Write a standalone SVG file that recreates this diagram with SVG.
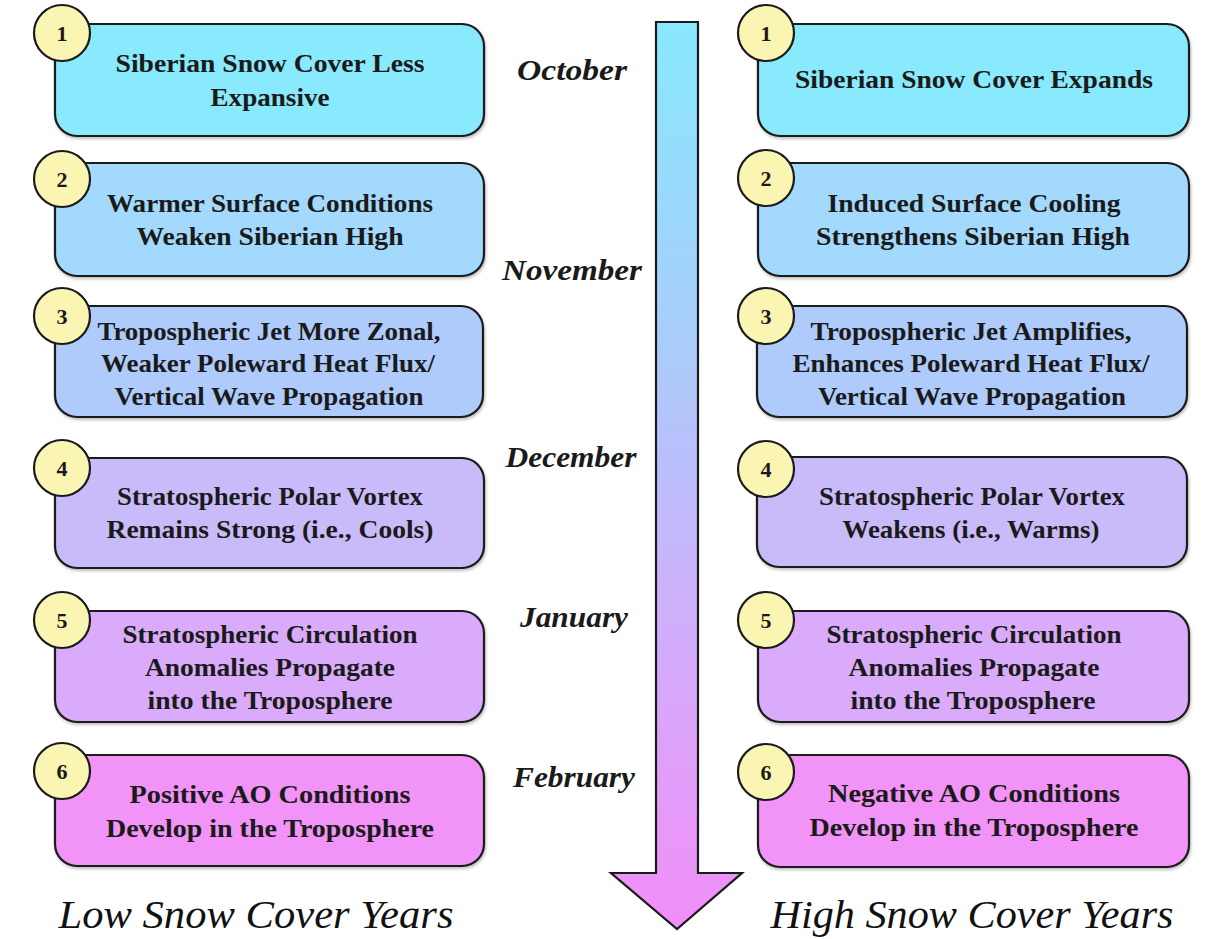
<svg xmlns="http://www.w3.org/2000/svg" width="1223" height="939" viewBox="0 0 1223 939">
<defs>
<linearGradient id="arrowGrad" x1="0" y1="22" x2="0" y2="929" gradientUnits="userSpaceOnUse">
<stop offset="0" stop-color="#88e8fd"/>
<stop offset="0.35" stop-color="#a9cdfc"/>
<stop offset="0.6" stop-color="#c9b4fb"/>
<stop offset="1" stop-color="#f28ef8"/>
</linearGradient>
<filter id="sh" x="-5%" y="-5%" width="110%" height="115%">
<feDropShadow dx="1" dy="2" stdDeviation="1.5" flood-color="#000" flood-opacity="0.25"/>
</filter>
</defs>
<style>
.box{stroke:#1a1a1a;stroke-width:2.2}
.b1{fill:#89e9fd}.b2{fill:#a3d9fc}.b3{fill:#aecbfb}.b4{fill:#c9bbfa}.b5{fill:#d9abfa}.b6{fill:#f293f8}
.num{fill:#fbf5b3;stroke:#1a1a1a;stroke-width:2.2}
.t{font-family:"Liberation Serif","Times New Roman",serif;font-weight:bold;font-size:26px;fill:#1a1a1a;text-anchor:middle}
.n{font-family:"Liberation Serif","Times New Roman",serif;font-weight:bold;font-size:22px;fill:#1a1a1a;text-anchor:middle}
.m{font-family:"Liberation Serif","Times New Roman",serif;font-weight:bold;font-style:italic;font-size:30px;fill:#1a1a1a;text-anchor:middle}
.h{font-family:"Liberation Serif","Times New Roman",serif;font-style:italic;font-size:39px;fill:#111;text-anchor:middle}
</style>
<rect width="1223" height="939" fill="#ffffff"/>

<g id="connectors">
<polygon id="time-arrow" points="656,22 698,22 698,873 742,873 677,929 611,873 656,873" fill="url(#arrowGrad)" stroke="#1a1a1a" stroke-width="2.2" stroke-linejoin="miter"/>
</g>

<g id="months">
<text class="m" x="572" y="80" textLength="110" lengthAdjust="spacingAndGlyphs">October</text>
<text class="m" x="572" y="280" textLength="140" lengthAdjust="spacingAndGlyphs">November</text>
<text class="m" x="571" y="467" textLength="131" lengthAdjust="spacingAndGlyphs">December</text>
<text class="m" x="574" y="627" textLength="108" lengthAdjust="spacingAndGlyphs">January</text>
<text class="m" x="574" y="787" textLength="122" lengthAdjust="spacingAndGlyphs">February</text>
</g>

<!-- Left column -->
<g id="L1">
<rect class="box b1" x="55" y="24" width="429" height="112" rx="22" filter="url(#sh)"/>
<circle class="num" cx="62" cy="33" r="28"/>
<text class="n" x="62" y="41">1</text>
<text class="t" x="270" y="72" textLength="309" lengthAdjust="spacingAndGlyphs">Siberian Snow Cover Less</text>
<text class="t" x="270" y="106" textLength="119" lengthAdjust="spacingAndGlyphs">Expansive</text>
</g>
<g id="L2">
<rect class="box b2" x="55" y="163" width="429" height="113" rx="22" filter="url(#sh)"/>
<circle class="num" cx="62" cy="179" r="28"/>
<text class="n" x="62" y="187">2</text>
<text class="t" x="270" y="212" textLength="326" lengthAdjust="spacingAndGlyphs">Warmer Surface Conditions</text>
<text class="t" x="270" y="245" textLength="267" lengthAdjust="spacingAndGlyphs">Weaken Siberian High</text>
</g>
<g id="L3">
<rect class="box b3" x="55" y="306" width="428" height="111" rx="22" filter="url(#sh)"/>
<circle class="num" cx="62" cy="316" r="28"/>
<text class="n" x="62" y="324">3</text>
<text class="t" x="269" y="340" textLength="343" lengthAdjust="spacingAndGlyphs">Tropospheric Jet More Zonal,</text>
<text class="t" x="268" y="372" textLength="334" lengthAdjust="spacingAndGlyphs">Weaker Poleward Heat Flux/</text>
<text class="t" x="269" y="405" textLength="309" lengthAdjust="spacingAndGlyphs">Vertical Wave Propagation</text>
</g>
<g id="L4">
<rect class="box b4" x="55" y="458" width="429" height="110" rx="22" filter="url(#sh)"/>
<circle class="num" cx="62" cy="468" r="28"/>
<text class="n" x="62" y="476">4</text>
<text class="t" x="270" y="505" textLength="306" lengthAdjust="spacingAndGlyphs">Stratospheric Polar Vortex</text>
<text class="t" x="270" y="538" textLength="327" lengthAdjust="spacingAndGlyphs">Remains Strong (i.e., Cools)</text>
</g>
<g id="L5">
<rect class="box b5" x="55" y="611" width="429" height="111" rx="22" filter="url(#sh)"/>
<circle class="num" cx="62" cy="620" r="28"/>
<text class="n" x="62" y="628">5</text>
<text class="t" x="270" y="643" textLength="295" lengthAdjust="spacingAndGlyphs">Stratospheric Circulation</text>
<text class="t" x="270" y="676" textLength="250" lengthAdjust="spacingAndGlyphs">Anomalies Propagate</text>
<text class="t" x="270" y="709" textLength="245" lengthAdjust="spacingAndGlyphs">into the Troposphere</text>
</g>
<g id="L6">
<rect class="box b6" x="55" y="755" width="429" height="111" rx="22" filter="url(#sh)"/>
<circle class="num" cx="62" cy="771" r="28"/>
<text class="n" x="62" y="779">6</text>
<text class="t" x="270" y="803" textLength="281" lengthAdjust="spacingAndGlyphs">Positive AO Conditions</text>
<text class="t" x="270" y="837" textLength="328" lengthAdjust="spacingAndGlyphs">Develop in the Troposphere</text>
</g>

<!-- Right column -->
<g id="R1">
<rect class="box b1" x="758" y="24" width="431" height="112" rx="22" filter="url(#sh)"/>
<circle class="num" cx="766" cy="33" r="28"/>
<text class="n" x="766" y="41">1</text>
<text class="t" x="974" y="88" textLength="358" lengthAdjust="spacingAndGlyphs">Siberian Snow Cover Expands</text>
</g>
<g id="R2">
<rect class="box b2" x="758" y="163" width="431" height="113" rx="22" filter="url(#sh)"/>
<circle class="num" cx="766" cy="178" r="28"/>
<text class="n" x="766" y="186">2</text>
<text class="t" x="974" y="212" textLength="293" lengthAdjust="spacingAndGlyphs">Induced Surface Cooling</text>
<text class="t" x="973" y="245" textLength="314" lengthAdjust="spacingAndGlyphs">Strengthens Siberian High</text>
</g>
<g id="R3">
<rect class="box b3" x="757" y="306" width="430" height="111" rx="22" filter="url(#sh)"/>
<circle class="num" cx="766" cy="316" r="28"/>
<text class="n" x="766" y="324">3</text>
<text class="t" x="971" y="340" textLength="321" lengthAdjust="spacingAndGlyphs">Tropospheric Jet Amplifies,</text>
<text class="t" x="971" y="372" textLength="357" lengthAdjust="spacingAndGlyphs">Enhances Poleward Heat Flux/</text>
<text class="t" x="972" y="405" textLength="308" lengthAdjust="spacingAndGlyphs">Vertical Wave Propagation</text>
</g>
<g id="R4">
<rect class="box b4" x="757" y="457" width="430" height="110" rx="22" filter="url(#sh)"/>
<circle class="num" cx="766" cy="469" r="28"/>
<text class="n" x="766" y="477">4</text>
<text class="t" x="972" y="505" textLength="306" lengthAdjust="spacingAndGlyphs">Stratospheric Polar Vortex</text>
<text class="t" x="971" y="538" textLength="257" lengthAdjust="spacingAndGlyphs">Weakens (i.e., Warms)</text>
</g>
<g id="R5">
<rect class="box b5" x="758" y="611" width="431" height="111" rx="22" filter="url(#sh)"/>
<circle class="num" cx="766" cy="620" r="28"/>
<text class="n" x="766" y="628">5</text>
<text class="t" x="974" y="643" textLength="295" lengthAdjust="spacingAndGlyphs">Stratospheric Circulation</text>
<text class="t" x="974" y="676" textLength="251" lengthAdjust="spacingAndGlyphs">Anomalies Propagate</text>
<text class="t" x="973" y="709" textLength="245" lengthAdjust="spacingAndGlyphs">into the Troposphere</text>
</g>
<g id="R6">
<rect class="box b6" x="758" y="755" width="431" height="112" rx="22" filter="url(#sh)"/>
<circle class="num" cx="766" cy="772" r="28"/>
<text class="n" x="766" y="780">6</text>
<text class="t" x="974" y="802" textLength="292" lengthAdjust="spacingAndGlyphs">Negative AO Conditions</text>
<text class="t" x="974" y="836" textLength="329" lengthAdjust="spacingAndGlyphs">Develop in the Troposphere</text>
</g>

<g id="titles">
<text class="h" x="256" y="928" textLength="395" lengthAdjust="spacingAndGlyphs">Low Snow Cover Years</text>
<text class="h" x="972" y="928" textLength="403" lengthAdjust="spacingAndGlyphs">High Snow Cover Years</text>
</g>
</svg>
